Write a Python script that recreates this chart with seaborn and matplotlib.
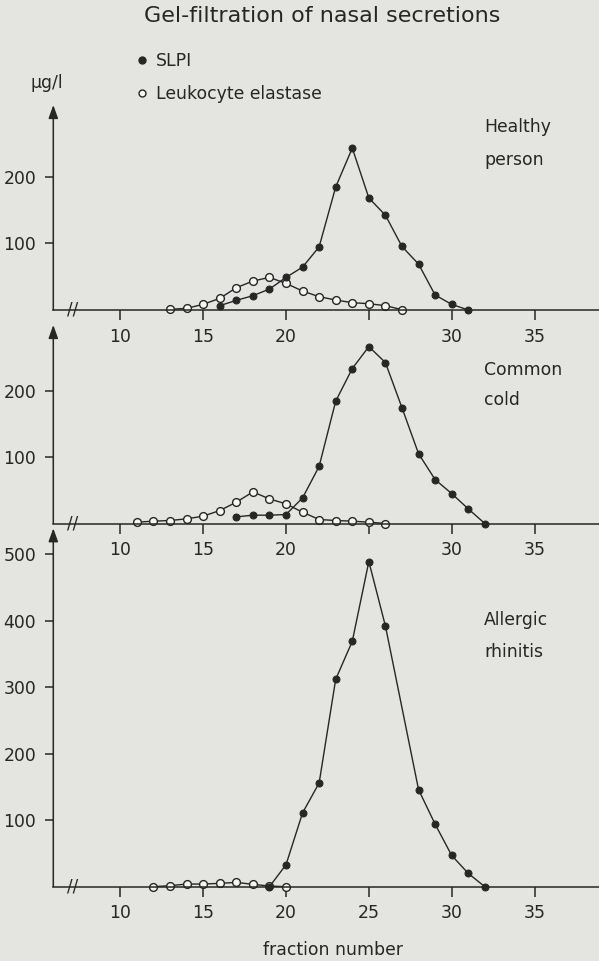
import matplotlib
matplotlib.use("Agg")
import matplotlib.pyplot as plt
import seaborn as sns
from matplotlib.lines import Line2D

# ---------------- data ----------------
healthy_slpi_frac = [16, 17, 18, 19, 20, 21, 22, 23, 24, 25, 26, 27, 28, 29, 30, 31]
healthy_slpi = [6.5, 14.5, 21.5, 31.5, 49, 64.5, 95, 185, 243.5, 168.5, 142.5, 95.5, 69, 22.5, 8.5, 0]
healthy_ela_frac = [13, 14, 15, 16, 17, 18, 19, 20, 21, 22, 23, 24, 25, 26, 27]
healthy_ela = [1, 2.5, 8.5, 17.5, 33.5, 43.5, 49, 40, 28.5, 20, 15, 11, 9.5, 6.5, 0.5]

cold_slpi_frac = [17, 18, 19, 20, 21, 22, 23, 24, 25, 26, 27, 28, 29, 30, 31, 32]
cold_slpi = [10, 12.5, 12.5, 13.5, 38.5, 86, 184, 233, 266, 242, 174, 105, 66, 45, 22, 0]
cold_ela_frac = [11, 12, 13, 14, 15, 16, 17, 18, 19, 20, 21, 22, 23, 24, 25, 26]
cold_ela = [2, 3.5, 4.5, 7, 11, 19.5, 32, 47.5, 37, 29.5, 17, 6, 4.5, 3.5, 2, 0]

allergic_slpi_frac = [19, 20, 21, 22, 23, 24, 25, 26, 28, 29, 30, 31, 32]
allergic_slpi = [0, 33, 111, 156, 312, 369, 489, 392, 146, 94, 47, 20, 0]
allergic_ela_frac = [12, 13, 14, 15, 16, 17, 18, 19, 20]
allergic_ela = [0, 1.5, 4, 4, 5, 6.5, 3.5, 1, 0]

x_ticks = [10, 15, 20, 25, 30, 35]
x_ticklabels_upper = ["10", "15", "20", "", "30", "35"]
x_ticklabels_lower = ["10", "15", "20", "25", "30", "35"]
y_ticks_small = [100, 200]
y_ticks_large = [100, 200, 300, 400, 500]
panel_labels = [("Healthy", "person"), ("Common", "cold"), ("Allergic", "rhinitis")]
series_names = ["SLPI", "Leukocyte elastase"]
title = "Gel-filtration of nasal secretions"
unit_label = "μg/l"
x_label = "fraction number"

# ---------------- style ----------------
BG = "#e4e4e1"
INK = "#262626"
OPEN = "#f6f6f3"
sns.set_style("ticks")
plt.rcParams["font.family"] = ["DejaVu Sans"]
plt.rcParams["text.color"] = INK
FS = 12.4

W, H = 599, 961
fig = plt.figure(figsize=(W / 100, H / 100), dpi=100, facecolor=BG)

PX_PER_UNIT = 0.665
X_LEFT_PX = 53.3
XLIM = (5.956, 38.89)


def make_ax(bottom_px, top_px):
    ax = fig.add_axes([X_LEFT_PX / W, 1 - bottom_px / H,
                       (W - X_LEFT_PX) / W, (bottom_px - top_px) / H])
    ax.set_facecolor("none")
    ax.set_xlim(*XLIM)
    ax.set_ylim(0, (bottom_px - top_px) / PX_PER_UNIT)
    for s in ["top", "right", "left"]:
        ax.spines[s].set_visible(False)
    ax.spines["bottom"].set_linewidth(1.1)
    ax.spines["bottom"].set_color(INK)
    ax.tick_params(axis="x", direction="out", length=7.2, width=1.1, pad=5.5,
                   labelsize=FS, colors=INK)
    ax.tick_params(axis="y", direction="out", length=5.8, width=1.1, pad=6.5,
                   labelsize=FS, colors=INK)
    ax.annotate("", xy=(0, 1), xytext=(0, 0), xycoords="axes fraction",
                arrowprops=dict(arrowstyle="-|>,head_length=0.5,head_width=0.18",
                                mutation_scale=16, lw=1.1, color=INK,
                                shrinkA=0, shrinkB=0))
    ax.text(7.15, 0, "//", ha="center", va="center", fontsize=12, color=INK,
            transform=ax.transData)
    return ax


def draw_panel(ax, sf, sv, ef, ev):
    sns.lineplot(x=ef, y=ev, ax=ax, color=INK, linewidth=1.0, marker="o",
                 markersize=5.6, markerfacecolor=OPEN, markeredgecolor=INK,
                 markeredgewidth=1.0, clip_on=False, errorbar=None)
    sns.lineplot(x=sf, y=sv, ax=ax, color=INK, linewidth=1.0, marker="o",
                 markersize=5.0, markerfacecolor=INK, markeredgecolor=INK,
                 clip_on=False, errorbar=None)
    ax.set_xlabel("")
    ax.set_ylabel("")


ax1 = make_ax(310, 105)
draw_panel(ax1, healthy_slpi_frac, healthy_slpi, healthy_ela_frac, healthy_ela)
ax1.set_xticks(x_ticks, x_ticklabels_upper)
ax1.set_yticks(y_ticks_small)

ax2 = make_ax(523.5, 325)
draw_panel(ax2, cold_slpi_frac, cold_slpi, cold_ela_frac, cold_ela)
ax2.set_xticks(x_ticks, x_ticklabels_upper)
ax2.set_yticks(y_ticks_small)

ax3 = make_ax(886.7, 528.3)
draw_panel(ax3, allergic_slpi_frac, allergic_slpi, allergic_ela_frac, allergic_ela)
ax3.set_xticks(x_ticks, x_ticklabels_lower)
ax3.set_yticks(y_ticks_large)
ax3.set_xlabel(x_label, fontsize=FS, color=INK)
ax3.xaxis.set_label_coords((333 - X_LEFT_PX) / (W - X_LEFT_PX), -63.3 / (886.7 - 528.3))
ax3.xaxis.label.set_va("center")

# panel labels
for (l1, l2), (y1, y2) in zip(panel_labels, [(126.7, 160), (370, 400), (620, 651.7)]):
    fig.text(484 / W, 1 - y1 / H, l1, ha="left", va="center", fontsize=FS)
    fig.text(484 / W, 1 - y2 / H, l2, ha="left", va="center", fontsize=FS)

# title, unit
fig.text(322 / W, 1 - 16 / H, title, ha="center", va="center", fontsize=16)
fig.text(47 / W, 1 - 83 / H, unit_label, ha="center", va="center", fontsize=FS)

# legend
handles = [
    Line2D([], [], marker="o", linestyle="none", markersize=5.0,
           markerfacecolor=INK, markeredgecolor=INK),
    Line2D([], [], marker="o", linestyle="none", markersize=5.0,
           markerfacecolor=OPEN, markeredgecolor=INK, markeredgewidth=1.0),
]
fig.legend(handles, series_names, loc="center left",
           bbox_to_anchor=(136.5 / W, 1 - 77.5 / H), frameon=False,
           handlelength=0.6, handletextpad=0.55, labelspacing=0.85,
           fontsize=FS, borderpad=0, borderaxespad=0)

fig.savefig("out.png", dpi=100, facecolor=BG)
